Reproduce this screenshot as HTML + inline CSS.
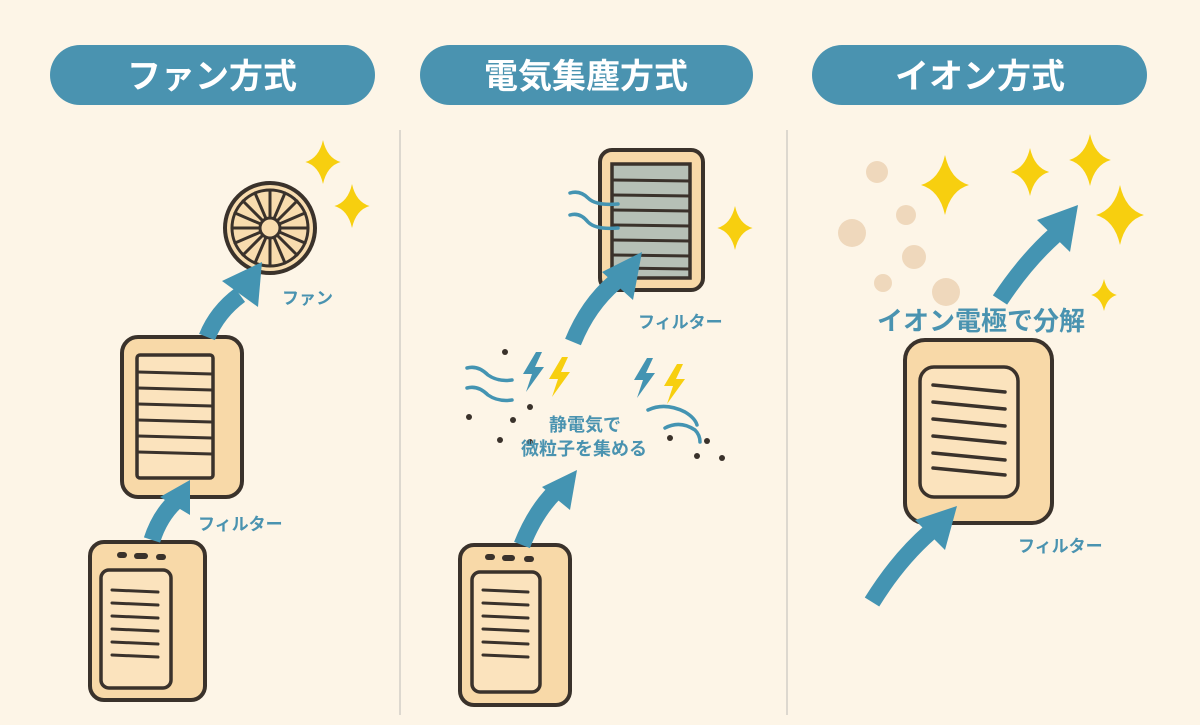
<!DOCTYPE html>
<html><head><meta charset="utf-8"><style>
body{margin:0;background:#fdf5e7;}
svg{display:block}
text{font-family:"Liberation Sans","Noto Sans CJK JP",sans-serif;font-weight:bold}
</style></head><body>
<svg width="1200" height="725" viewBox="0 0 1200 725" xmlns="http://www.w3.org/2000/svg">
<defs>
<path id="sp" d="M0,-10 Q1.8,-1.8 8,0 Q1.8,1.8 0,10 Q-1.8,1.8 -8,0 Q-1.8,-1.8 0,-10Z" fill="#f7cf0f"/>
<symbol id="bolt" viewBox="0 0 24 40" overflow="visible"><path d="M14,0 L1,22 L10,22 L4,40 L22,15 L13,15 L20,0Z"/></symbol>
</defs>
<rect width="1200" height="725" fill="#fdf5e7"/>
<line x1="400" y1="130" x2="400" y2="715" stroke="#ddd8cf" stroke-width="2"/>
<line x1="787" y1="130" x2="787" y2="715" stroke="#ddd8cf" stroke-width="2"/>

<rect x="50" y="45" width="325" height="60" rx="30" fill="#4a93b0"/>
<text x="212" y="88" font-size="34" fill="#fff" text-anchor="middle">ファン方式</text>
<rect x="420" y="45" width="333" height="60" rx="30" fill="#4a93b0"/>
<text x="586" y="88" font-size="34" fill="#fff" text-anchor="middle">電気集塵方式</text>
<rect x="812" y="45" width="335" height="60" rx="30" fill="#4a93b0"/>
<text x="980" y="88" font-size="34" fill="#fff" text-anchor="middle">イオン方式</text>

<!-- sparkles -->
<use href="#sp" transform="translate(323,162) scale(2.2)"/>
<use href="#sp" transform="translate(352,206) scale(2.2)"/>
<use href="#sp" transform="translate(735,228) scale(2.2)"/>
<use href="#sp" transform="translate(945,185) scale(3)"/>
<use href="#sp" transform="translate(1030,172) scale(2.4)"/>
<use href="#sp" transform="translate(1090,160) scale(2.6)"/>
<use href="#sp" transform="translate(1120,215) scale(3)"/>
<use href="#sp" transform="translate(1104,295) scale(1.6)"/>

<!-- particles panel 3 -->
<g fill="#efd8bc">
<circle cx="877" cy="172" r="11"/><circle cx="906" cy="215" r="10"/><circle cx="852" cy="233" r="14"/>
<circle cx="914" cy="257" r="12"/><circle cx="883" cy="283" r="9"/><circle cx="946" cy="292" r="14"/>
</g>

<g stroke="#3a322b" stroke-linecap="round">
<!-- fan -->
<circle cx="270" cy="228" r="45" fill="#f8dcae" stroke-width="4"/>
<circle cx="270" cy="228" r="38" fill="none" stroke-width="3"/>
<g stroke-width="3">
<line x1="270" y1="190" x2="270" y2="266"/><line x1="232" y1="228" x2="308" y2="228"/>
<line x1="243" y1="201" x2="297" y2="255"/><line x1="297" y1="201" x2="243" y2="255"/>
<line x1="255" y1="193" x2="285" y2="263"/><line x1="285" y1="193" x2="255" y2="263"/>
<line x1="235" y1="213" x2="305" y2="243"/><line x1="235" y1="243" x2="305" y2="213"/>
</g>
<circle cx="270" cy="228" r="10" fill="#f8dcae" stroke-width="3"/>
<!-- filter 1 -->
<rect x="122" y="337" width="120" height="160" rx="16" fill="#f8d9a8" stroke-width="4"/>
<rect x="137" y="355" width="76" height="123" rx="3" fill="#fbe3bd" stroke-width="3.5"/>
<g stroke-width="3"><line x1="138" y1="372" x2="212" y2="374"/><line x1="138" y1="388" x2="212" y2="390"/><line x1="138" y1="404" x2="212" y2="406"/><line x1="138" y1="420" x2="212" y2="422"/><line x1="138" y1="436" x2="212" y2="438"/><line x1="138" y1="452" x2="212" y2="454"/></g>
<!-- purifier 1 -->
<rect x="90" y="542" width="115" height="158" rx="14" fill="#f8d9a8" stroke-width="4"/>
<rect x="101" y="570" width="70" height="118" rx="8" fill="#fbe3bd" stroke-width="3.5"/>
<g stroke-width="3"><line x1="112" y1="590" x2="158" y2="592"/><line x1="112" y1="603" x2="158" y2="605"/><line x1="112" y1="616" x2="158" y2="618"/><line x1="112" y1="629" x2="158" y2="631"/><line x1="112" y1="642" x2="158" y2="644"/><line x1="112" y1="655" x2="158" y2="657"/></g>
<g stroke-width="6"><line x1="120" y1="555" x2="124" y2="555"/><line x1="137" y1="556" x2="145" y2="556"/><line x1="159" y1="557" x2="163" y2="557"/></g>

<!-- filter 2 -->
<rect x="600" y="150" width="103" height="140" rx="12" fill="#f8d9a8" stroke-width="4"/>
<rect x="612" y="164" width="78" height="114" fill="#b6c0b6" stroke-width="3.5"/>
<g stroke-width="3"><line x1="612" y1="180" x2="690" y2="181"/><line x1="612" y1="195" x2="690" y2="196"/><line x1="612" y1="210" x2="690" y2="211"/><line x1="612" y1="225" x2="690" y2="226"/><line x1="612" y1="240" x2="690" y2="241"/><line x1="612" y1="255" x2="690" y2="256"/><line x1="612" y1="268" x2="690" y2="269"/></g>
<!-- purifier 2 -->
<rect x="460" y="545" width="110" height="160" rx="14" fill="#f8d9a8" stroke-width="4"/>
<rect x="472" y="572" width="68" height="120" rx="8" fill="#fbe3bd" stroke-width="3.5"/>
<g stroke-width="3"><line x1="483" y1="590" x2="528" y2="592"/><line x1="483" y1="603" x2="528" y2="605"/><line x1="483" y1="616" x2="528" y2="618"/><line x1="483" y1="629" x2="528" y2="631"/><line x1="483" y1="642" x2="528" y2="644"/><line x1="483" y1="655" x2="528" y2="657"/></g>
<g stroke-width="6"><line x1="488" y1="557" x2="492" y2="557"/><line x1="505" y1="558" x2="512" y2="558"/><line x1="527" y1="559" x2="531" y2="559"/></g>

<!-- ion box -->
<rect x="905" y="340" width="147" height="183" rx="20" fill="#f8d9a8" stroke-width="4"/>
<rect x="920" y="367" width="98" height="130" rx="14" fill="#fbe3bd" stroke-width="3.5"/>
<g stroke-width="3.5"><line x1="933" y1="385" x2="1005" y2="392"/><line x1="933" y1="402" x2="1005" y2="409"/><line x1="933" y1="419" x2="1005" y2="426"/><line x1="933" y1="436" x2="1005" y2="443"/><line x1="933" y1="453" x2="1005" y2="460"/><line x1="933" y1="468" x2="1005" y2="475"/></g>
</g>

<!-- arrows (on top of boxes) -->
<g fill="none" stroke="#4494b2" stroke-width="17">
<path d="M207,337 Q217,312 240,295"/>
<path d="M152,540 Q160,515 177,500"/>
<path d="M573,342 Q588,305 615,282"/>
<path d="M522,545 Q535,512 555,492"/>
<path d="M1000,300 Q1025,262 1055,235"/>
<path d="M872,602 Q898,560 930,532"/>
</g>
<g fill="#4494b2">
<polygon points="262,262 222,281 258,307"/>
<polygon points="190,480 160,497 190,515"/>
<polygon points="642,252 602,272 633,300"/>
<polygon points="577,470 542,487 570,510"/>
<polygon points="1078,205 1037,220 1070,252"/>
<polygon points="957,506 915,520 945,550"/>
</g>

<!-- panel 2 waves, bolts, dots -->
<g fill="none" stroke="#4494b2" stroke-width="3.5" stroke-linecap="round">
<path d="M570,193 Q580,190 588,198 Q596,206 618,204"/>
<path d="M570,215 Q580,212 588,222 Q596,230 618,228"/>
<path d="M467,368 Q478,365 488,375 Q498,382 512,380"/>
<path d="M467,388 Q478,385 488,395 Q498,402 512,400"/>
<path d="M648,410 Q665,402 685,412 Q695,418 697,425"/>
<path d="M665,428 Q680,420 695,430 Q700,435 700,442"/>
</g>
<g fill="#4494b2">
<use href="#bolt" x="522" y="352" width="24" height="40"/>
<use href="#bolt" x="633" y="358" width="24" height="40"/>
</g>
<g fill="#f7cf0f">
<use href="#bolt" x="548" y="357" width="24" height="40"/>
<use href="#bolt" x="663" y="364" width="24" height="40"/>
</g>
<g fill="#3a322b">
<circle cx="505" cy="352" r="3"/><circle cx="530" cy="407" r="3"/><circle cx="469" cy="417" r="3"/><circle cx="513" cy="420" r="3"/>
<circle cx="500" cy="440" r="3"/><circle cx="530" cy="442" r="3"/><circle cx="670" cy="438" r="3"/><circle cx="707" cy="441" r="3"/>
<circle cx="697" cy="456" r="3"/><circle cx="722" cy="458" r="3"/>
</g>

<!-- labels -->
<g fill="#4a93b0">
<text x="282" y="304" font-size="17">ファン</text>
<text x="198" y="530" font-size="17">フィルター</text>
<text x="638" y="328" font-size="17">フィルター</text>
<text x="549" y="431" font-size="18">静電気で</text>
<text x="521" y="455" font-size="18">微粒子を集める</text>
<text x="877" y="330" font-size="26">イオン電極で分解</text>
<text x="1018" y="552" font-size="17">フィルター</text>
</g>
</svg>
</body></html>
